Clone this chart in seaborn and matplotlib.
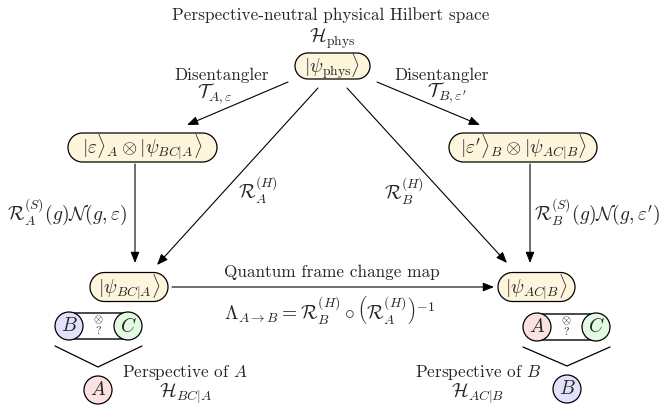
import matplotlib

matplotlib.use("Agg")
import numpy as np  # noqa: E402
import matplotlib.pyplot as plt  # noqa: E402
import seaborn as sns  # noqa: E402
from matplotlib.patches import FancyBboxPatch, FancyArrowPatch, Circle, ArrowStyle, Polygon  # noqa: E402

sns.set_theme(style="white")
plt.rcParams["font.family"] = ["cmr10", "DejaVu Serif"]
plt.rcParams["mathtext.fontset"] = "cm"
plt.rcParams["axes.formatter.use_mathtext"] = True

# ---------------------------------------------------------------------------
# Diagram content
# ---------------------------------------------------------------------------
TITLE = "Perspective-neutral physical Hilbert space"
TITLE_SPACE = r"$\mathcal{H}_{\mathrm{phys}}$"

NODE_LABELS = [
    r"$|\psi_{\mathrm{phys}}\rangle$",
    r"$|\varepsilon\rangle_A \otimes |\psi_{BC|A}\rangle$",
    r"$|\varepsilon'\rangle_B \otimes |\psi_{AC|B}\rangle$",
    r"$|\psi_{BC|A}\rangle$",
    r"$|\psi_{AC|B}\rangle$",
]

EDGE_LABELS = [
    r"$\mathcal{T}_{A,\varepsilon}$",
    r"$\mathcal{T}_{B,\varepsilon'}$",
    r"$\mathcal{R}_A^{(H)}$",
    r"$\mathcal{R}_B^{(H)}$",
    r"$\mathcal{R}_A^{(S)}(g)\mathcal{N}(g,\varepsilon)$",
    r"$\mathcal{R}_B^{(S)}(g)\mathcal{N}(g,\varepsilon')$",
    r"$\Lambda_{A\to B} = \mathcal{R}_B^{(H)} \circ \left(\mathcal{R}_A^{(H)}\right)^{-1}$",
]
DISENTANGLER = "Disentangler"
FRAME_CHANGE = "Quantum frame change map"

PERSPECTIVES = ["A", "B"]
PERSPECTIVE_SPACES = [r"$\mathcal{H}_{BC|A}$", r"$\mathcal{H}_{AC|B}$"]
BUBBLE_PAIRS = [("B", "C"), ("A", "C")]

# ---------------------------------------------------------------------------
# Layout (pixel coordinates, y grows downward) and styles
# ---------------------------------------------------------------------------
NODE_BOX = [  # cx, cy, width, height
    (332.5, 66, 75, 26),
    (142.5, 147.5, 149, 29),
    (523, 147.5, 148, 29),
    (129, 287, 78, 29),
    (536.5, 287, 77, 29),
]
ARROWS = [
    ((288, 82), (187, 125)),
    ((377, 82), (480, 125)),
    ((318, 88), (157, 265)),
    ((347, 88), (507, 263)),
    ((135, 164), (135, 263)),
    ((530, 164), (530, 263)),
    ((172, 287), (494, 287)),
]
EDGE_POS = [  # x, y, ha
    (215, 94, "center"),
    (447, 93, "center"),
    (258, 190, "center"),
    (404, 191, "center"),
    (127, 212, "right"),
    (534, 212, "left"),
    (330, 310, "center"),
]
BUBBLE_LAYOUT = [  # left circle x, right circle x, y, bottom circle (x, y), text x
    (69, 128, 326, (98, 390), 185),
    (537, 596, 327, (567, 389), 478),
]
CIRCLE_COLORS = {"A": "#fbe1e1", "B": "#e1e1fb", "C": "#e1fae1"}
NODE_FILL = "#fdf6dc"
FS = 12.4
FM = 14
R = 14


def stadium(cx, cy, w, h):
    """Pill-shaped outline: two half circles joined by straight edges."""
    r = h / 2
    t = np.linspace(-np.pi / 2, np.pi / 2, 40)
    right = np.column_stack([cx + w / 2 - r + r * np.cos(t), cy + r * np.sin(t)])
    left = np.column_stack([cx - w / 2 + r - r * np.cos(t), cy - r * np.sin(t)])
    return np.vstack([right, left])


fig = plt.figure(figsize=(6.62, 4.07), dpi=100)
ax = fig.add_axes([0, 0, 1, 1])
ax.set_xlim(0, 662)
ax.set_ylim(407, 0)
ax.axis("off")

ax.text(331, 15, TITLE, ha="center", va="center", fontsize=FS)
ax.text(332, 39, TITLE_SPACE, ha="center", va="center", fontsize=FM)

for label, (cx, cy, w, h) in zip(NODE_LABELS, NODE_BOX):
    ax.add_patch(Polygon(stadium(cx, cy, w, h), closed=True, facecolor=NODE_FILL,
                         edgecolor="black", linewidth=0.9, zorder=2))
    ax.text(cx, cy, label, ha="center", va="center", fontsize=FM, zorder=3)

head = ArrowStyle("-|>", head_length=0.55, head_width=0.22)
for start, end in ARROWS:
    ax.add_patch(FancyArrowPatch(
        start, end, arrowstyle=head, mutation_scale=12,
        color="black", linewidth=0.8, shrinkA=0, shrinkB=0, zorder=1,
    ))

for label, (x, y, ha) in zip(EDGE_LABELS, EDGE_POS):
    ax.text(x, y, label, ha=ha, va="center", fontsize=FM)

ax.text(222, 75, DISENTANGLER, ha="center", va="center", fontsize=FS)
ax.text(442, 75, DISENTANGLER, ha="center", va="center", fontsize=FS)
ax.text(332, 272, FRAME_CHANGE, ha="center", va="center", fontsize=FS)

# Perspective bubbles
for who, space, pair, (xl, xr, yc, (bx, by), tx) in zip(
    PERSPECTIVES, PERSPECTIVE_SPACES, BUBBLE_PAIRS, BUBBLE_LAYOUT
):
    ax.add_patch(FancyBboxPatch(
        (xl, yc - R + 1), xr - xl, 2 * R - 2,
        boxstyle="round,pad=0,rounding_size=0",
        facecolor="white", edgecolor="black", linewidth=1.0, zorder=2,
    ))
    for name, x in zip(pair, (xl, xr)):
        ax.add_patch(Circle((x, yc), R, facecolor=CIRCLE_COLORS[name],
                            edgecolor="black", linewidth=0.9, zorder=3))
        ax.text(x, yc, f"${name}$", ha="center", va="center", fontsize=FM, zorder=4)
    xm = (xl + xr) / 2
    ax.text(xm, yc - 6, r"$\otimes$", ha="center", va="center", fontsize=8.5, zorder=4)
    ax.text(xm, yc + 5, "?", ha="center", va="center", fontsize=8.5, zorder=4)
    ax.plot([xl - R, bx, xr + R], [yc + 20, by - 23, yc + 20],
            color="black", linewidth=0.9)
    ax.add_patch(Circle((bx, by), R, facecolor=CIRCLE_COLORS[who],
                        edgecolor="black", linewidth=0.9, zorder=3))
    ax.text(bx, by, f"${who}$", ha="center", va="center", fontsize=FM, zorder=4)
    ax.text(tx, 373, f"Perspective of ${who}$", ha="center", va="center", fontsize=FS)
    ax.text(tx, 394, space, ha="center", va="center", fontsize=FM)

fig.savefig("out.png", dpi=100)
